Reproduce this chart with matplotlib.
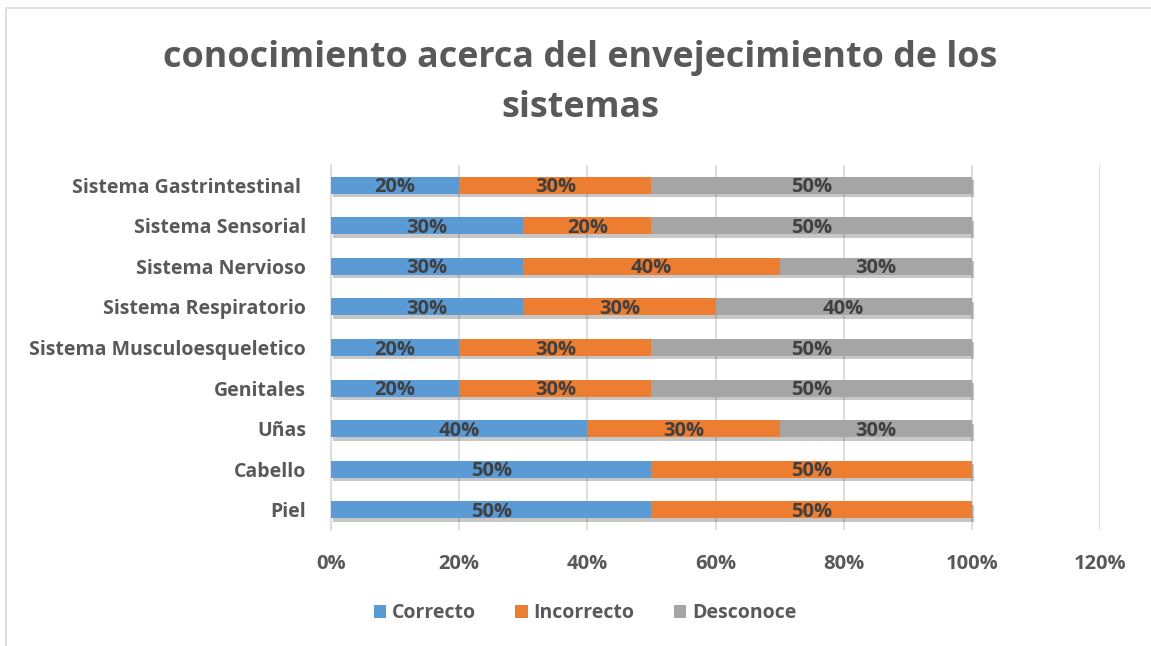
import matplotlib.pyplot as plt
import matplotlib.patheffects as pe
from matplotlib.patches import Rectangle, Patch

categories = ["Piel", "Cabello", "Uñas", "Genitales", "Sistema Musculoesqueletico",
              "Sistema Respiratorio", "Sistema Nervioso", "Sistema Sensorial",
              "Sistema Gastrintestinal "]
correcto = [0.5, 0.5, 0.4, 0.2, 0.2, 0.3, 0.3, 0.3, 0.2]
incorrecto = [0.5, 0.5, 0.3, 0.3, 0.3, 0.3, 0.4, 0.2, 0.3]
desconoce = [0.0, 0.0, 0.3, 0.5, 0.5, 0.4, 0.3, 0.5, 0.5]
series = [("Correcto", correcto, "#5B9BD5"),
          ("Incorrecto", incorrecto, "#ED7D31"),
          ("Desconoce", desconoce, "#A5A5A5")]
xticks = [0, 0.2, 0.4, 0.6, 0.8, 1.0, 1.2]

plt.rcParams['font.family'] = ['Open Sans', 'DejaVu Sans']
txt = "#595959"

fig = plt.figure(figsize=(11.51, 6.46), dpi=100)
W, H = 1151, 646
ax = fig.add_axes([331 / W, 1 - 530 / H, (1100 - 331) / W, (530 - 165) / H])

# chart border
fig.patches.append(Rectangle((6 / W, -0.01), 1.2, 1 - 8 / H + 0.01, transform=fig.transFigure,
                             fill=False, edgecolor="#D9D9D9", linewidth=1.2))

y = list(range(len(categories)))
left = [0.0] * len(categories)
shadow = [pe.SimplePatchShadow(offset=(1.5, -2.5), shadow_rgbFace="#000000", alpha=0.22), pe.Normal()]
for name, vals, col in series:
    bars = ax.barh(y, vals, left=left, height=0.42, color=col, zorder=3)
    for b in bars:
        b.set_path_effects(shadow)
    for i, v in enumerate(vals):
        if v > 0:
            ax.text(left[i] + v / 2, y[i] - 0.05, f"{v:.0%}", ha="center", va="center",
                    fontsize=14.5, fontweight="bold", color="#404040", zorder=4)
    left = [l + v for l, v in zip(left, vals)]

ax.set_xlim(0, 1.2)
ax.set_ylim(-0.5, len(categories) - 0.5)
ax.set_xticks(xticks)
ax.set_xticklabels([f"{t:.0%}" for t in xticks])
ax.set_yticks(y)
ax.set_yticklabels(categories)
ax.tick_params(length=0, labelcolor=txt)
ax.tick_params(axis="x", pad=17, labelsize=14.5)
ax.tick_params(axis="y", pad=18, labelsize=14)
for lab in ax.get_xticklabels() + ax.get_yticklabels():
    lab.set_fontweight("bold")
ax.grid(axis="x", color="#D9D9D9", linewidth=1.2, zorder=0)
for s in ["top", "right", "bottom"]:
    ax.spines[s].set_visible(False)
ax.spines["left"].set_color("#D9D9D9")
ax.spines["left"].set_linewidth(1.2)

fig.text(580 / W, 1 - 83 / H, "conocimiento acerca del envejecimiento de los\nsistemas",
         ha="center", va="center", fontsize=25.8, fontweight="bold", color=txt, linespacing=1.5)

handles = [Patch(facecolor=c, label=n) for n, _, c in series]
fig.legend(handles=handles, loc="center", bbox_to_anchor=(585 / W, 1 - 613 / H), ncol=3,
           frameon=False, handlelength=0.65, handleheight=0.65, handletextpad=0.3,
           columnspacing=2.0, prop={"size": 14, "weight": "bold"}, labelcolor=txt)

fig.savefig("out.png", dpi=100)
